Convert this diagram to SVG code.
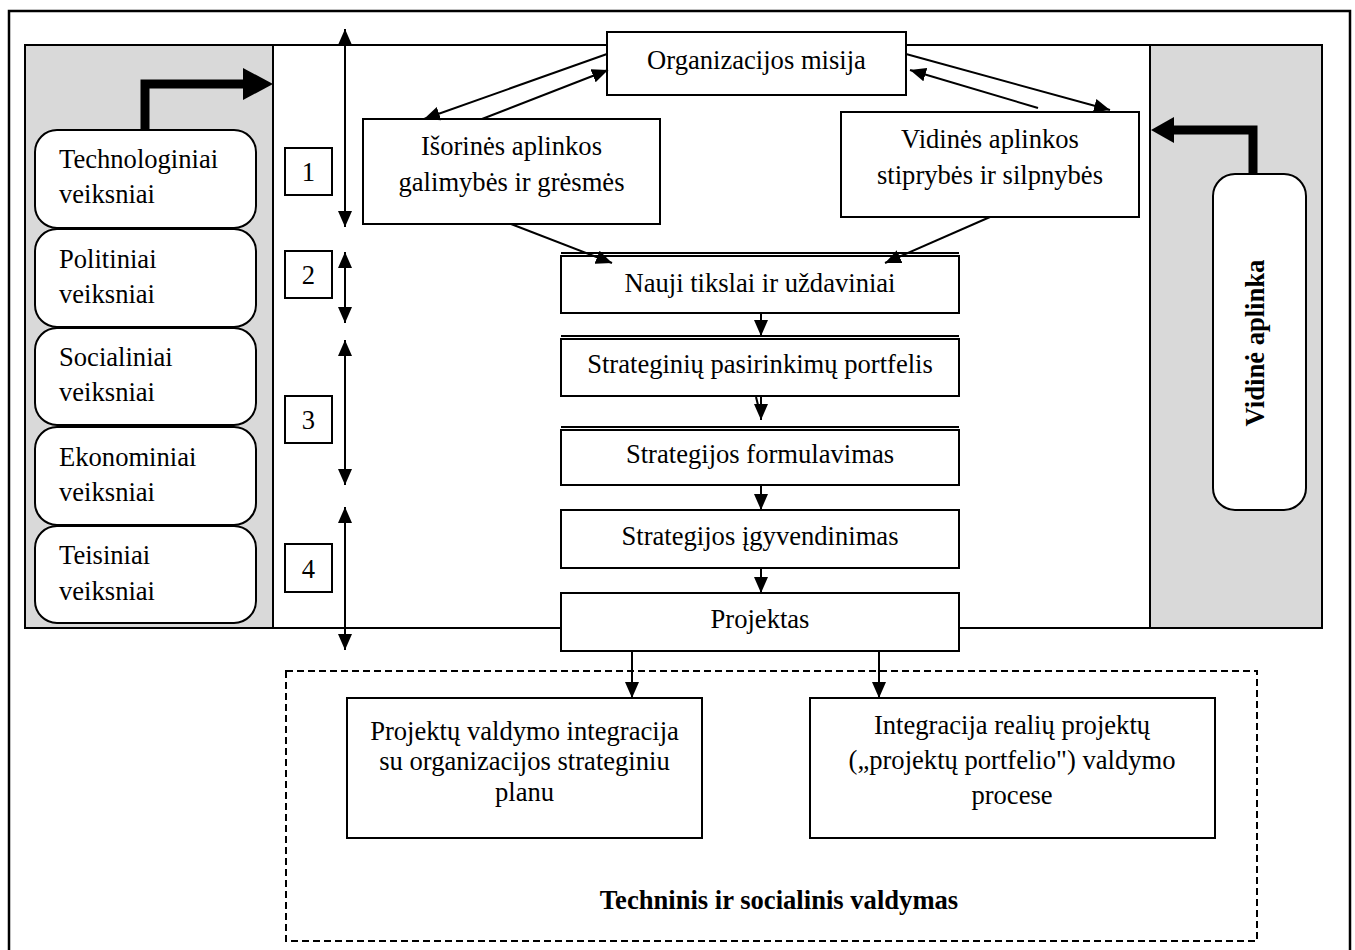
<svg xmlns="http://www.w3.org/2000/svg" width="1355" height="950" viewBox="0 0 1355 950">
<style>
.box{fill:#fff;stroke:#000;stroke-width:2}
.gray{fill:#d9d9d9;stroke:#000;stroke-width:2}
.t{font-family:"Liberation Serif","Times New Roman",serif;font-size:26.6px;fill:#000}
.c{text-anchor:middle}
.b{font-weight:bold}
.ln{stroke:#000;stroke-width:2;fill:none}
.thick{stroke:#000;stroke-width:9;fill:none}
.dash{fill:none;stroke:#000;stroke-width:2;stroke-dasharray:7 4}
</style>
<defs>
<marker id="ah" viewBox="0 0 16 14" refX="16" refY="7" markerWidth="16" markerHeight="14" markerUnits="userSpaceOnUse" orient="auto-start-reverse">
<path d="M0,0 L16,7 L0,14 z" fill="#000"/>
</marker>
</defs>
<rect width="1355" height="950" fill="#fff"/>
<g id="frame">
<rect x="9" y="11" width="1341" height="960" fill="none" stroke="#000" stroke-width="2.5"/>
<rect x="25" y="45" width="1297" height="583" class="box"/>
<rect x="25" y="45" width="248" height="583" class="gray"/>
<rect x="1150" y="45" width="172" height="583" class="gray"/>
</g>
<g id="dashed-area">
<rect x="286" y="671" width="971" height="270" class="dash"/>
<text class="t c b" x="779" y="909">Techninis ir socialinis valdymas</text>
</g>
<g id="f-tech">
<rect x="35" y="130" width="221" height="98" rx="22" class="box"/>
<text class="t" x="59" y="168">Technologiniai</text>
<text class="t" x="59" y="203">veiksniai</text>
</g>
<g id="f-pol">
<rect x="35" y="229" width="221" height="98" rx="22" class="box"/>
<text class="t" x="59" y="268">Politiniai</text>
<text class="t" x="59" y="303">veiksniai</text>
</g>
<g id="f-soc">
<rect x="35" y="328" width="221" height="97" rx="22" class="box"/>
<text class="t" x="59" y="366">Socialiniai</text>
<text class="t" x="59" y="401">veiksniai</text>
</g>
<g id="f-eko">
<rect x="35" y="427" width="221" height="98" rx="22" class="box"/>
<text class="t" x="59" y="466">Ekonominiai</text>
<text class="t" x="59" y="501">veiksniai</text>
</g>
<g id="f-teis">
<rect x="35" y="526" width="221" height="97" rx="22" class="box"/>
<text class="t" x="59" y="564">Teisiniai</text>
<text class="t" x="59" y="600">veiksniai</text>
</g>
<g id="vidine-aplinka">
<rect x="1213" y="174" width="93" height="336" rx="22" class="box"/>
<text class="t c b" transform="translate(1264,343) rotate(-90)">Vidinė aplinka</text>
</g>
<g id="n1"><rect x="285" y="148" width="47" height="47" class="box"/><text class="t c" x="308.5" y="181">1</text></g>
<g id="n2"><rect x="285" y="251" width="47" height="47" class="box"/><text class="t c" x="308.5" y="284">2</text></g>
<g id="n3"><rect x="285" y="396" width="47" height="47" class="box"/><text class="t c" x="308.5" y="429">3</text></g>
<g id="n4"><rect x="285" y="544" width="47" height="48" class="box"/><text class="t c" x="308.5" y="578">4</text></g>
<g id="misija">
<rect x="607" y="32" width="299" height="63" class="box"/>
<text class="t c" x="756.5" y="69">Organizacijos misija</text>
</g>
<g id="isorine">
<rect x="363" y="119" width="297" height="105" class="box"/>
<text class="t c" x="511.5" y="155">Išorinės aplinkos</text>
<text class="t c" x="511.5" y="191">galimybės ir grėsmės</text>
</g>
<g id="vidine">
<rect x="841" y="112" width="298" height="105" class="box"/>
<text class="t c" x="990" y="148">Vidinės aplinkos</text>
<text class="t c" x="990" y="184">stiprybės ir silpnybės</text>
</g>
<g id="tikslai">
<rect x="561" y="256" width="398" height="57" class="box"/>
<line x1="561" y1="253" x2="959" y2="253" class="ln" stroke-width="1.5"/>
<text class="t c" x="760" y="292">Nauji tikslai ir uždaviniai</text>
</g>
<g id="portfelis">
<rect x="561" y="339" width="398" height="57" class="box"/>
<line x1="561" y1="336" x2="959" y2="336" class="ln" stroke-width="1.5"/>
<text class="t c" x="760" y="373">Strateginių pasirinkimų portfelis</text>
</g>
<g id="formulavimas">
<rect x="561" y="430" width="398" height="55" class="box"/>
<line x1="561" y1="427" x2="959" y2="427" class="ln" stroke-width="1.5"/>
<text class="t c" x="760" y="463">Strategijos formulavimas</text>
</g>
<g id="igyvendinimas">
<rect x="561" y="510" width="398" height="58" class="box"/>
<text class="t c" x="760" y="545">Strategijos įgyvendinimas</text>
</g>
<g id="projektas">
<rect x="561" y="593" width="398" height="58" class="box"/>
<text class="t c" x="760" y="628">Projektas</text>
</g>
<g id="integracija1">
<rect x="347" y="698" width="355" height="140" class="box"/>
<text class="t c" x="524.5" y="740">Projektų valdymo integracija</text>
<text class="t c" x="524.5" y="770">su organizacijos strateginiu</text>
<text class="t c" x="524.5" y="801">planu</text>
</g>
<g id="integracija2">
<rect x="810" y="698" width="405" height="140" class="box"/>
<text class="t c" x="1012" y="734">Integracija realių projektų</text>
<text class="t c" x="1012" y="769">(„projektų portfelio") valdymo</text>
<text class="t c" x="1012" y="804">procese</text>
</g>
<g id="connectors">
<path class="thick" d="M145,130 V84 H246"/>
<polygon points="243,68 273,84 243,100" fill="#000"/>
<path class="thick" d="M1253,175 V130 H1172"/>
<polygon points="1174,117 1151,130 1174,143" fill="#000"/>
<line class="ln" x1="345" y1="29" x2="345" y2="227" marker-start="url(#ah)" marker-end="url(#ah)"/>
<line class="ln" x1="345" y1="252" x2="345" y2="323" marker-start="url(#ah)" marker-end="url(#ah)"/>
<line class="ln" x1="345" y1="340" x2="345" y2="485" marker-start="url(#ah)" marker-end="url(#ah)"/>
<line class="ln" x1="345" y1="507" x2="345" y2="650" marker-start="url(#ah)" marker-end="url(#ah)"/>
<line class="ln" x1="607" y1="54" x2="424" y2="119" marker-end="url(#ah)"/>
<line class="ln" x1="482" y1="119" x2="608" y2="70" marker-end="url(#ah)"/>
<line class="ln" x1="906" y1="54" x2="1110" y2="110" marker-end="url(#ah)"/>
<line class="ln" x1="1038" y1="108" x2="910" y2="70" marker-end="url(#ah)"/>
<line class="ln" x1="511" y1="224" x2="612" y2="263" marker-end="url(#ah)"/>
<line class="ln" x1="990" y1="217" x2="885" y2="263" marker-end="url(#ah)"/>
<line class="ln" x1="761" y1="313" x2="761" y2="336" marker-end="url(#ah)"/>
<line class="ln" x1="761" y1="396" x2="761" y2="420" marker-end="url(#ah)"/>
<path class="ln" d="M756,397 L758,405" stroke-width="1.5"/>
<line class="ln" x1="761" y1="485" x2="761" y2="510" marker-end="url(#ah)"/>
<line class="ln" x1="761" y1="568" x2="761" y2="593" marker-end="url(#ah)"/>
<line class="ln" x1="632" y1="651" x2="632" y2="698" marker-end="url(#ah)"/>
<line class="ln" x1="879" y1="651" x2="879" y2="698" marker-end="url(#ah)"/>
</g>
</svg>
